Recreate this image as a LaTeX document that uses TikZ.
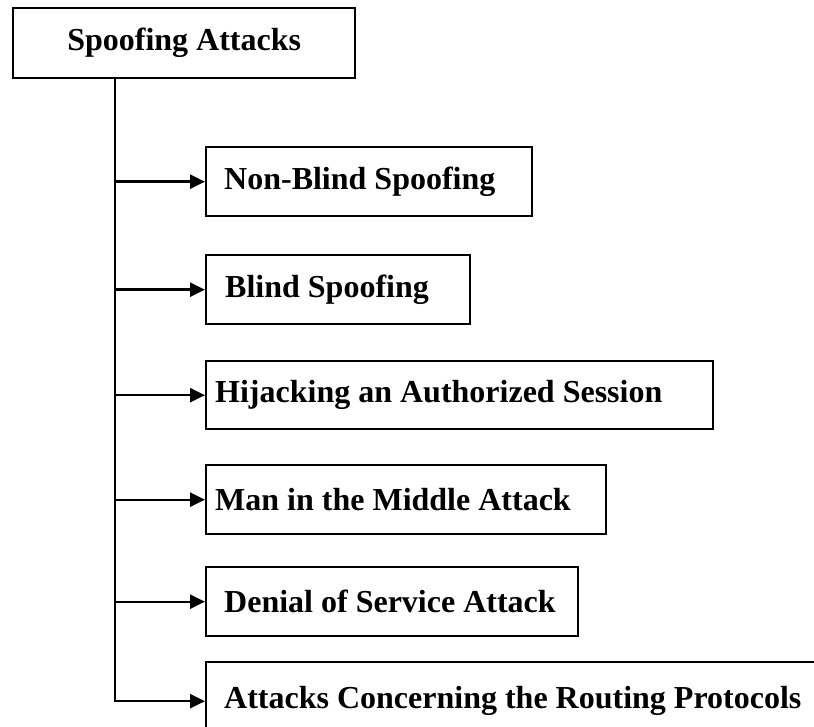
\documentclass[tikz,border=0pt]{standalone}
\usepackage{fontspec}
\setmainfont{Liberation Serif}
\usepackage{tikz}
\usetikzlibrary{positioning, arrows.meta, calc}
\definecolor{ink}{HTML}{000000}
\tikzset{
  rootbox/.style={draw=ink, line width=2.4pt, anchor=north west, inner sep=0pt,
                  minimum width=342pt, minimum height=70pt, text=ink,
                  font=\bfseries\fontsize{32}{38}\selectfont},
  leafbox/.style={draw=ink, line width=2.4pt, anchor=north west, inner ysep=0pt,
                  minimum height=69pt, align=flush left, text=ink,
                  font=\bfseries\fontsize{32}{38}\selectfont},
  arr/.style={-{Triangle[length=15pt, width=14pt]}, draw=ink, line width=2.4pt},
}

\begin{document}
\begin{tikzpicture}[x=1pt, y=-1pt]
  \useasboundingbox (0,0) rectangle (814,727);
  \node[rootbox] (spoof) at (12,7) {Spoofing Attacks};
  \node[leafbox, inner xsep=18pt, text width=290pt] (nonblind) at (205,146)
    {Non-Blind Spoofing};
  \node[leafbox, inner xsep=19pt, text width=226pt] (blind) at (205,254)
    {Blind Spoofing};
  \node[leafbox, inner xsep=9pt, text width=489pt, minimum height=68pt] (hijack) at (205,360)
    {Hijacking an Authorized Session};
  \node[leafbox, inner xsep=9pt, text width=382pt] (mitm) at (205,464)
    {Man in the Middle Attack};
  \node[leafbox, inner xsep=18pt, text width=336pt] (dos) at (205,566)
    {Denial of Service Attack};
  \node[leafbox, inner xsep=18pt, text width=604pt, minimum height=78pt] (routing) at (205,661)
    {Attacks Concerning the Routing Protocols};
  \coordinate (trunk) at ($(spoof.south west)+(103,0)$);
  % branches off the trunk
  \foreach \leaf in {nonblind, blind, hijack, mitm, dos}
    \draw[arr] (trunk |- \leaf.west) -- (\leaf.west);
  \draw[arr] (trunk) |- (routing.west);
\end{tikzpicture}
\end{document}
